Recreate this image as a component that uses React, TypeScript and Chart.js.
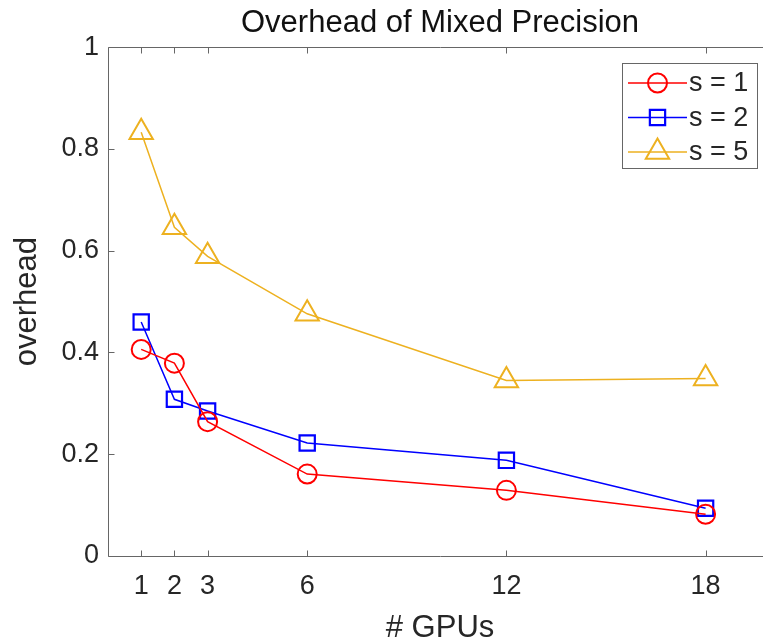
import { useEffect, useRef } from 'react';
import { Chart, registerables } from 'chart.js';

Chart.register(...registerables);

const gpus = [1, 2, 3, 6, 12, 18];
const s1 = [0.406, 0.379, 0.264, 0.161, 0.129, 0.082];
const s2 = [0.46, 0.308, 0.285, 0.222, 0.188, 0.094];
const s5 = [0.833, 0.646, 0.589, 0.476, 0.345, 0.349];
const xTicks = [1, 2, 3, 6, 12, 18];
const yTicks = [0, 0.2, 0.4, 0.6, 0.8, 1];
const seriesLabels = ['s = 1', 's = 2', 's = 5'];
const titleText = 'Overhead of Mixed Precision';
const xLabel = '# GPUs';
const yLabel = 'overhead';
const xMin = 0;
const xMax = 20;

const FONT = '"Liberation Sans", Arial, Helvetica, sans-serif';
const AXIS = '#666666';
const TEXT = '#262626';
const RED = '#ff0000';
const BLUE = '#0000ff';
const YELLOW = '#edb120';

// the axes box continues a little past the right edge of the 763px figure
const VIEW_W = 763;
const CANVAS_W = 800;
const CANVAS_H = 638;

function drawMarker(ctx: CanvasRenderingContext2D, style: string, x: number, y: number, r: number) {
  ctx.beginPath();
  if (style === 'circle') {
    ctx.arc(x, y, r, 0, Math.PI * 2);
  } else if (style === 'rect') {
    const s = Math.SQRT1_2 * r;
    ctx.rect(x - s, y - s, 2 * s, 2 * s);
  } else {
    ctx.moveTo(x, y - r);
    ctx.lineTo(x + r * Math.sin((2 * Math.PI) / 3), y - r * Math.cos((2 * Math.PI) / 3));
    ctx.lineTo(x + r * Math.sin((4 * Math.PI) / 3), y - r * Math.cos((4 * Math.PI) / 3));
    ctx.closePath();
  }
  ctx.stroke();
}

const boxPlugin = {
  id: 'matlabBox',
  afterDatasetsDraw(chart: any) {
    const { ctx, chartArea, scales } = chart;
    const L = Math.round(chartArea.left) + 0.5;
    const R = Math.round(chartArea.right) + 0.5;
    const T = Math.round(chartArea.top) + 0.5;
    const B = Math.round(chartArea.bottom) + 0.5;
    ctx.save();
    ctx.strokeStyle = AXIS;
    ctx.lineWidth = 1;
    ctx.beginPath();
    ctx.moveTo(R, T);
    ctx.lineTo(L, T);
    ctx.lineTo(L, B);
    ctx.lineTo(R, B);
    ctx.stroke();
    const tl = 6;
    ctx.beginPath();
    xTicks.forEach((v) => {
      const px = Math.round(scales.x.getPixelForValue(v)) + 0.5;
      ctx.moveTo(px, B);
      ctx.lineTo(px, B - tl);
      ctx.moveTo(px, T);
      ctx.lineTo(px, T + tl);
    });
    yTicks.forEach((v) => {
      const py = Math.round(scales.y.getPixelForValue(v)) + 0.5;
      ctx.moveTo(L, py);
      ctx.lineTo(L + tl, py);
    });
    ctx.stroke();

    // legend
    const bx = 622.5, by = 63.5, bw = 135, bh = 105;
    ctx.fillStyle = '#ffffff';
    ctx.fillRect(bx, by, bw, bh);
    ctx.strokeStyle = AXIS;
    ctx.lineWidth = 1;
    ctx.strokeRect(bx, by, bw, bh);
    chart.data.datasets.forEach((ds: any, i: number) => {
      const cy = 83 + i * 34.5;
      ctx.strokeStyle = ds.borderColor;
      ctx.lineWidth = ds.borderWidth;
      ctx.beginPath();
      ctx.moveTo(628, cy);
      ctx.lineTo(687, cy);
      ctx.stroke();
      ctx.lineWidth = ds.pointBorderWidth;
      drawMarker(ctx, ds.pointStyle, 657.5, cy, ds.pointRadius);
      ctx.fillStyle = TEXT;
      ctx.font = `27px ${FONT}`;
      ctx.textAlign = 'left';
      ctx.textBaseline = 'middle';
      ctx.fillText(ds.label, 689, cy + 1);
    });
    ctx.restore();
  },
};

export default function App() {
  const ref = useRef<HTMLCanvasElement | null>(null);
  useEffect(() => {
    document.body.style.margin = '0';
    document.body.style.overflow = 'hidden';
    if (!ref.current) return;
    const mk = (vals: number[]) => gpus.map((g, i) => ({ x: g, y: vals[i] }));
    const chart = new Chart(ref.current, {
      type: 'line',
      data: {
        datasets: [
          {
            label: seriesLabels[0],
            data: mk(s1),
            borderColor: RED,
            backgroundColor: 'transparent',
            borderWidth: 1.5,
            pointStyle: 'circle',
            pointRadius: 9.5,
            pointBorderWidth: 2,
            pointBorderColor: RED,
            pointBackgroundColor: 'transparent',
          },
          {
            label: seriesLabels[1],
            data: mk(s2),
            borderColor: BLUE,
            backgroundColor: 'transparent',
            borderWidth: 1.5,
            pointStyle: 'rect',
            pointRadius: 10.8,
            pointBorderWidth: 2.2,
            pointBorderColor: BLUE,
            pointBackgroundColor: 'transparent',
          },
          {
            label: seriesLabels[2],
            data: mk(s5),
            borderColor: YELLOW,
            backgroundColor: 'transparent',
            borderWidth: 1.5,
            pointStyle: 'triangle',
            pointRadius: 13.5,
            pointBorderWidth: 2,
            pointBorderColor: YELLOW,
            pointBackgroundColor: 'transparent',
          },
        ],
      },
      options: {
        responsive: false,
        maintainAspectRatio: false,
        animation: false,
        layout: { autoPadding: false, padding: { left: 0, top: 0, right: CANVAS_W - 772, bottom: 0 } },
        plugins: {
          legend: { display: false },
          tooltip: { enabled: false },
          title: {
            display: true,
            fullSize: false,
            text: titleText,
            color: '#111111',
            font: { family: FONT, size: 31, weight: 'normal' },
            padding: { top: 5, bottom: 5 },
          },
        },
        scales: {
          x: {
            type: 'linear',
            min: xMin,
            max: xMax,
            grid: { display: false, drawTicks: false },
            border: { display: false },
            afterBuildTicks: (s: any) => {
              s.ticks = xTicks.map((v) => ({ value: v }));
            },
            afterFit: (s: any) => {
              s.height = CANVAS_H - 556;
            },
            ticks: {
              autoSkip: false,
              maxRotation: 0,
              padding: 14,
              color: TEXT,
              font: { family: FONT, size: 27 },
              callback: (v: any) => String(v),
            },
            title: {
              display: true,
              text: xLabel,
              color: TEXT,
              font: { family: FONT, size: 31 },
              padding: { top: 0, bottom: -9 },
            },
          },
          y: {
            type: 'linear',
            min: 0,
            max: 1,
            grid: { display: false, drawTicks: false },
            border: { display: false },
            afterBuildTicks: (s: any) => {
              s.ticks = yTicks.map((v) => ({ value: v }));
            },
            afterFit: (s: any) => {
              s.width = 108;
            },
            ticks: {
              padding: 9,
              color: TEXT,
              font: { family: FONT, size: 27 },
              callback: (v: any) => String(v),
            },
            title: {
              display: true,
              text: yLabel,
              color: TEXT,
              font: { family: FONT, size: 31 },
              padding: { top: 9, bottom: 0 },
            },
          },
        },
      },
      plugins: [boxPlugin],
    });
    return () => chart.destroy();
  }, []);
  return (
    <div style={{ width: VIEW_W, height: CANVAS_H, overflow: 'hidden' }}>
      <canvas ref={ref} width={CANVAS_W} height={CANVAS_H} style={{ display: 'block' }} />
    </div>
  );
}
